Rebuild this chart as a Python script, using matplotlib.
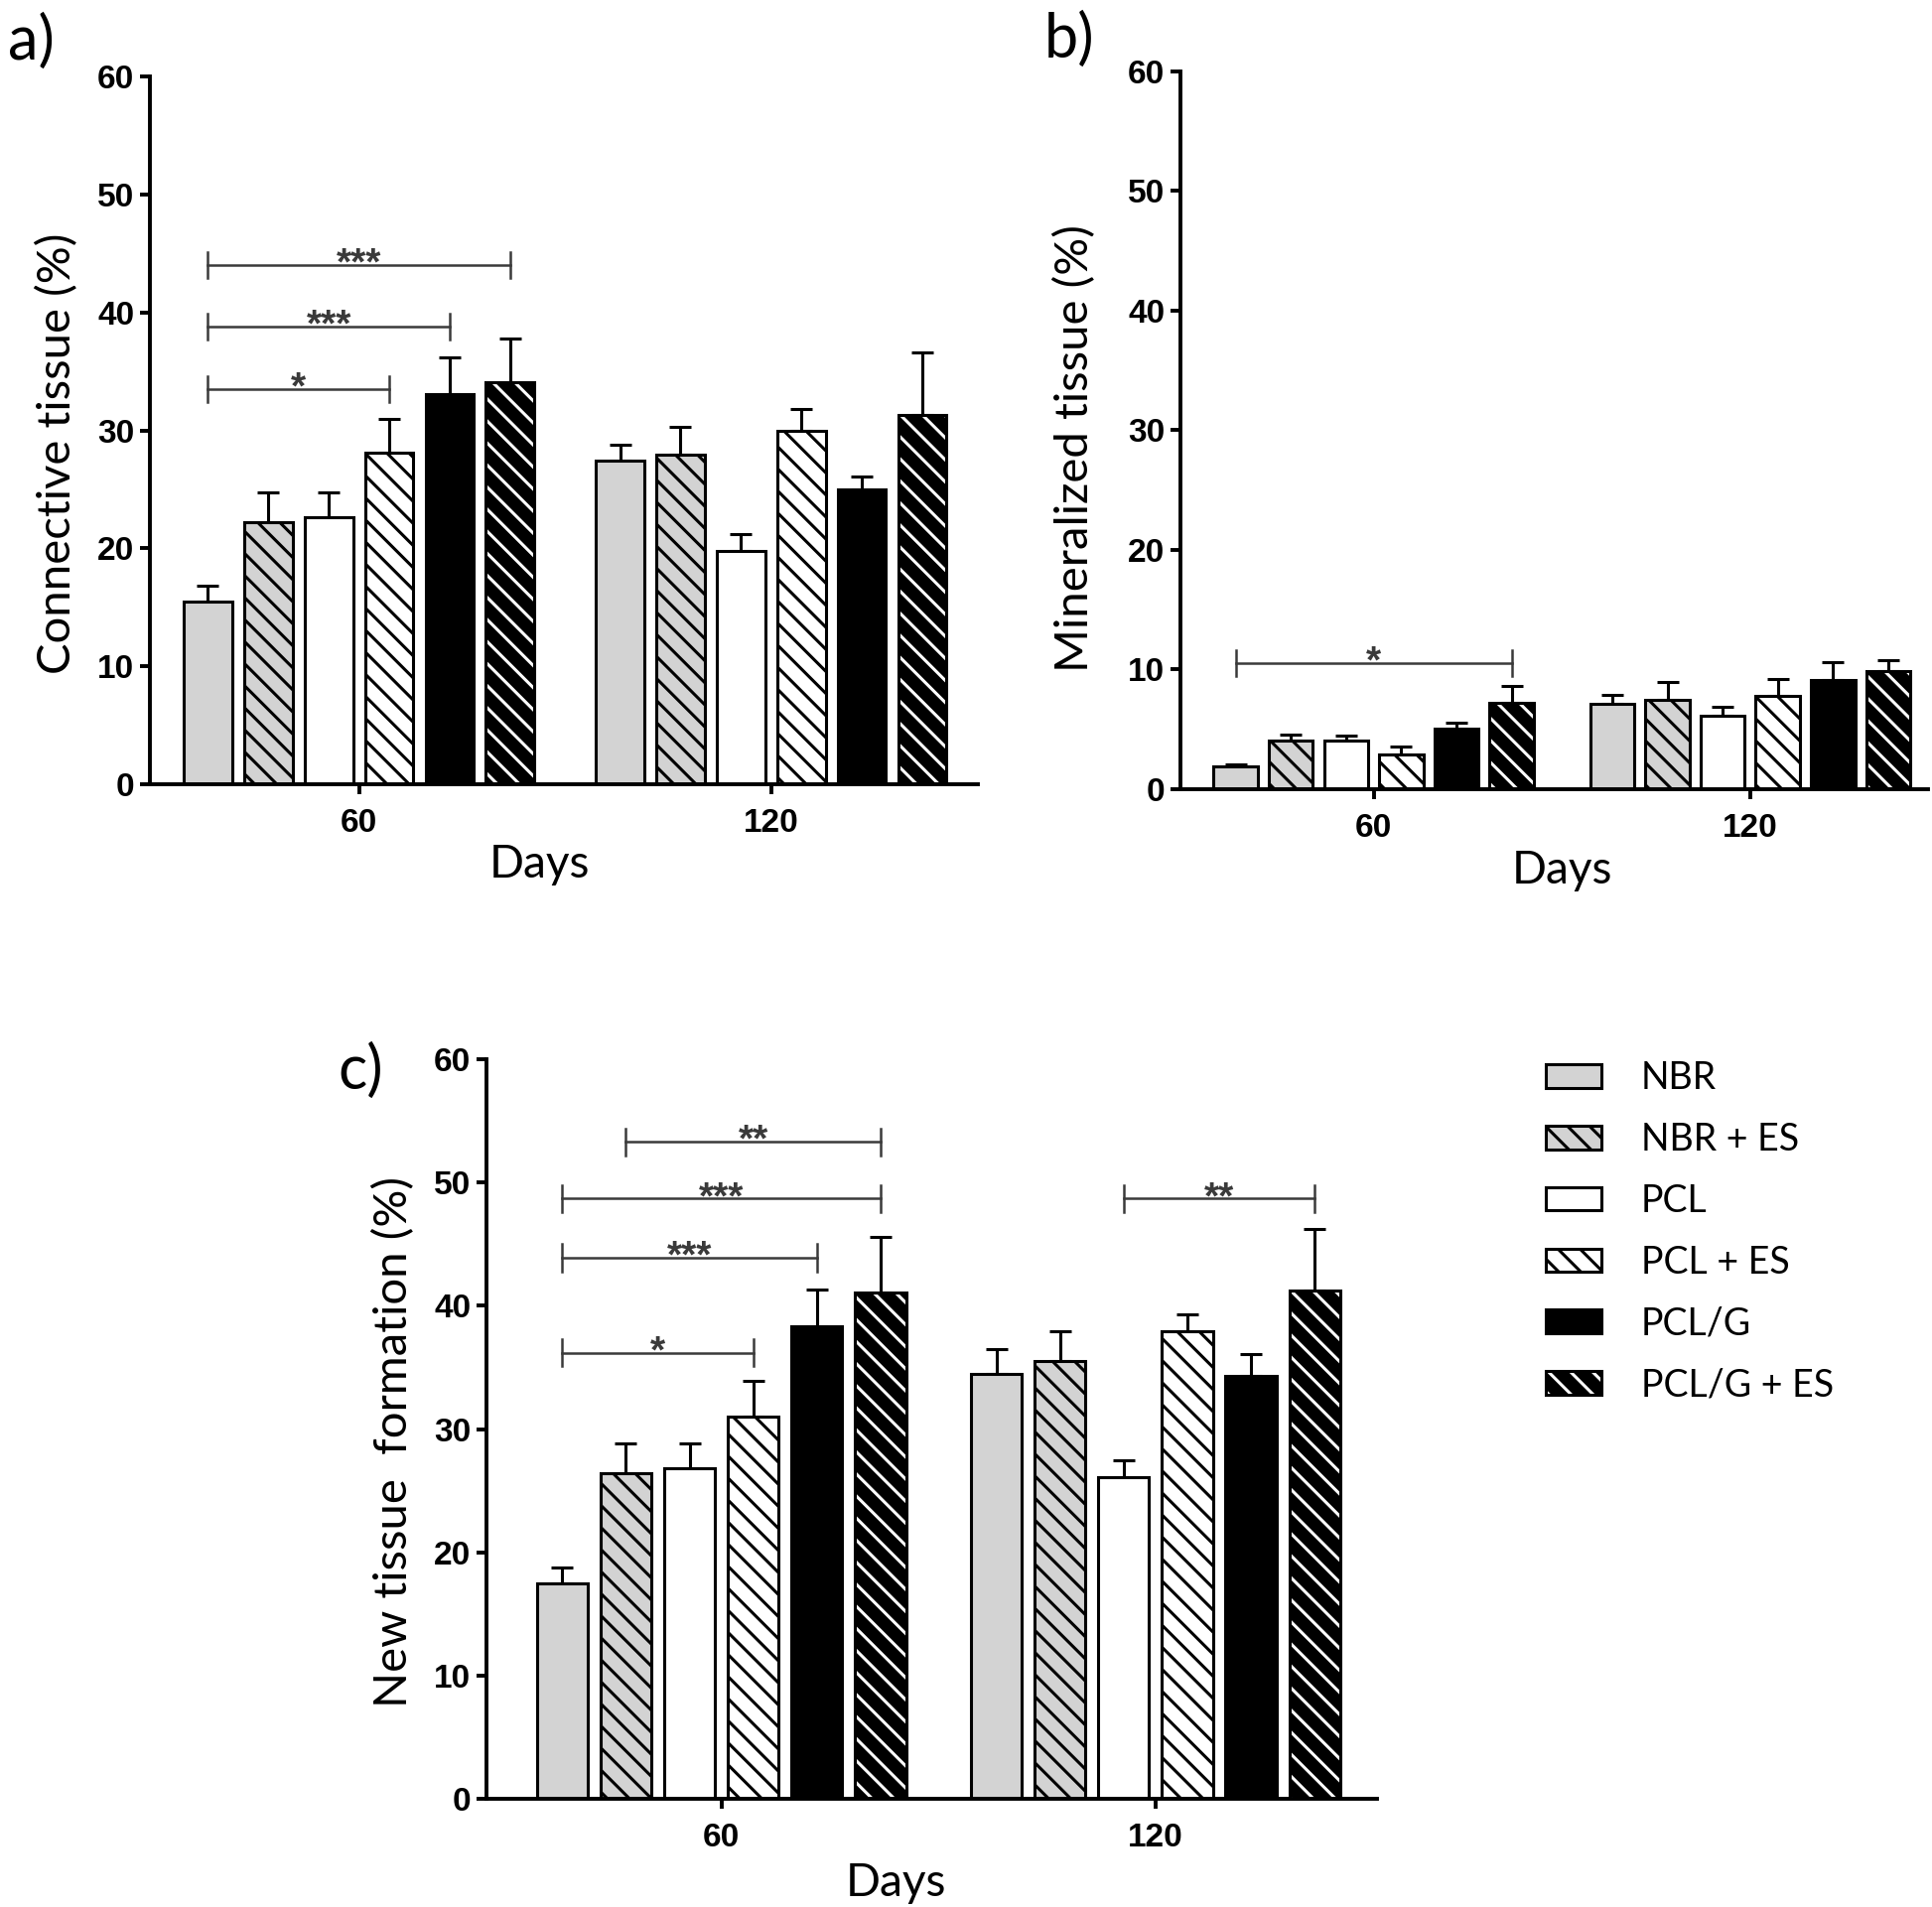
import numpy as np
import matplotlib
matplotlib.use('Agg')
import matplotlib.pyplot as plt
from matplotlib.patches import Patch

plt.rcParams['hatch.linewidth'] = 1.1
plt.rcParams['font.family'] = ['Lato', 'DejaVu Sans']

# data
groups = ['60', '120']
series = ['NBR', 'NBR + ES', 'PCL', 'PCL + ES', 'PCL/G', 'PCL/G + ES']

conn_60 = [15.5, 22.2, 22.6, 28.1, 33.1, 34.1]
conn_60_sem = [1.3, 2.5, 2.1, 2.9, 3.1, 3.7]
conn_120 = [27.4, 27.9, 19.8, 30.0, 25.0, 31.3]
conn_120_sem = [1.4, 2.4, 1.4, 1.8, 1.1, 5.3]

min_60 = [1.9, 4.1, 4.1, 2.9, 5.1, 7.2]
min_60_sem = [0.2, 0.5, 0.4, 0.65, 0.45, 1.4]
min_120 = [7.1, 7.5, 6.1, 7.8, 9.1, 9.9]
min_120_sem = [0.8, 1.5, 0.8, 1.4, 1.5, 0.9]

new_60 = [17.5, 26.4, 26.8, 31.0, 38.3, 41.1]
new_60_sem = [1.3, 2.4, 2.0, 2.9, 3.0, 4.5]
new_120 = [34.5, 35.5, 26.1, 37.9, 34.3, 41.2]
new_120_sem = [2.0, 2.4, 1.4, 1.4, 1.8, 5.0]

# (group, first bar, last bar, height, stars)
conn_sig = [(0, 0, 3, 33.5, '*'), (0, 0, 4, 38.8, '***'), (0, 0, 5, 44.0, '***')]
min_sig = [(0, 0, 5, 10.55, '*')]
new_sig = [(0, 0, 3, 36.2, '*'), (0, 0, 4, 43.9, '***'), (0, 0, 5, 48.7, '***'),
           (0, 1, 5, 53.3, '**'), (1, 2, 5, 48.7, '**')]

fills = ['#d3d3d3', '#d3d3d3', 'white', 'white', 'black', 'black']
hatches = [None, '\\\\\\', None, '\\\\\\', None, '\\\\\\']

W, H = 1946, 1921
gap = 6.82
bw = 0.8
lw = 1.1

fig = plt.figure(figsize=(W / 200, H / 200), dpi=200)


def px_axes(l, t, r, b):
    return fig.add_axes([l / W, 1 - b / H, (r - l) / W, (b - t) / H])


def bar_x(i):
    return np.arange(len(groups)) * gap + (i - 2.5)


def panel(ax, v60, s60, v120, s120, sig, ylabel, xlim, ylab_x, ylab_y, days_x):
    for i in range(len(series)):
        xs = bar_x(i)
        vals = [v60[i], v120[i]]
        errs = [s60[i], s120[i]]
        if fills[i] == 'black' and hatches[i]:
            ax.bar(xs, vals, bw, color='black', edgecolor='white', hatch=hatches[i], lw=0, zorder=2)
            ax.bar(xs, vals, bw, color='none', edgecolor='black', lw=lw, zorder=3)
        else:
            ax.bar(xs, vals, bw, color=fills[i], edgecolor='black', hatch=hatches[i], lw=lw, zorder=2)
        ax.errorbar(xs, vals, yerr=[np.zeros(2), errs], fmt='none', ecolor='black',
                    elinewidth=lw, capsize=4, capthick=lw, zorder=1)
    for g, a, b, y, st in sig:
        x0 = bar_x(a)[g]
        x1 = bar_x(b)[g]
        ax.plot([x0, x1], [y, y], color='#3a3a3a', lw=0.9, zorder=4)
        ax.plot([x0, x0], [y - 1.1, y + 1.1], color='#3a3a3a', lw=0.9, zorder=4)
        ax.plot([x1, x1], [y - 1.1, y + 1.1], color='#3a3a3a', lw=0.9, zorder=4)
        ax.annotate(st, xy=((x0 + x1) / 2, y), xytext=(0, -3.5), textcoords='offset points',
                    ha='center', va='baseline', fontsize=14, fontweight='bold',
                    family='Liberation Sans', color='#3a3a3a')
    ax.set_xlim(*xlim)
    ax.set_ylim(0, 60)
    ax.set_yticks(np.arange(0, 61, 10))
    ax.set_xticks(np.arange(len(groups)) * gap)
    ax.set_xticklabels(groups)
    for s in ['top', 'right']:
        ax.spines[s].set_visible(False)
    for s in ['left', 'bottom']:
        ax.spines[s].set_linewidth(1.4)
    ax.tick_params(width=1.4, length=3.6, labelsize=12)
    ax.tick_params(axis='y', pad=2)
    ax.tick_params(axis='x', pad=5)
    for t in ax.get_xticklabels() + ax.get_yticklabels():
        t.set_fontweight('bold')
        t.set_family('Liberation Sans')
    ax.text(ylab_x, ylab_y, ylabel, transform=ax.transAxes, rotation=90,
            ha='center', va='center', fontsize=17)
    ax.text(days_x, -0.114, 'Days', transform=ax.transAxes,
            ha='center', va='center', fontsize=16.5)


ax_a = px_axes(151, 77, 985, 790)
panel(ax_a, conn_60, conn_60_sem, conn_120, conn_120_sem, conn_sig,
      'Connective tissue (%)', (-3.46, 10.24), -0.112, 0.468, 0.47)

ax_b = px_axes(1189, 72, 1942, 795)
panel(ax_b, min_60, min_60_sem, min_120, min_120_sem, min_sig,
      'Mineralized tissue (%)', (-3.5, 10.04), -0.141, 0.475, 0.51)

ax_c = px_axes(490, 1067, 1387, 1812)
panel(ax_c, new_60, new_60_sem, new_120, new_120_sem, new_sig,
      'New tissue  formation (%)', (-3.69, 10.3), -0.104, 0.483, 0.46)

fig.text(31 / W, 1 - 42 / H, 'a)', ha='center', va='center', fontsize=22)
fig.text(1077 / W, 1 - 40 / H, 'b)', ha='center', va='center', fontsize=22)
fig.text(363 / W, 1 - 1079 / H, 'c)', ha='center', va='center', fontsize=22)

handles = []
for i in range(len(series)):
    if fills[i] == 'black' and hatches[i]:
        handles.append((Patch(facecolor='black', edgecolor='white', hatch=hatches[i], lw=0),
                        Patch(facecolor='none', edgecolor='black', lw=lw)))
    else:
        handles.append(Patch(facecolor=fills[i], edgecolor='black', hatch=hatches[i], lw=lw))
fig.legend(handles, series, loc='upper left', bbox_to_anchor=(1557 / W, 1 - 1068 / H),
           frameon=False, fontsize=13.5, handlelength=1.5, handleheight=0.6,
           handletextpad=1.05, labelspacing=0.69, borderpad=0, borderaxespad=0)

fig.savefig('out.png', dpi=200)
